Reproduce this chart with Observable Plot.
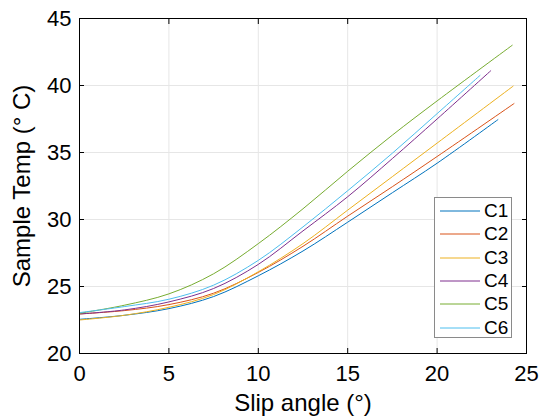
<!DOCTYPE html>
<html>
<head>
<meta charset="utf-8">
<script src="https://cdn.jsdelivr.net/npm/d3@7"></script>
<script src="https://cdn.jsdelivr.net/npm/@observablehq/plot@0.6"></script>
<style>
  html, body { margin: 0; padding: 0; background: #fff; }
  #wrap { position: relative; width: 539px; height: 420px; font-family: "Liberation Sans", Arial, Helvetica, sans-serif; }
  #wrap svg g[aria-label="x-axis tick label"] text,
  #wrap svg g[aria-label="y-axis tick label"] text { font-size: 22px; fill: #000; }
  #wrap svg g[aria-label="x-axis label"] text,
  #wrap svg g[aria-label="y-axis label"] text { font-size: 24px; fill: #000; }
  #legend { position: absolute; left: 434px; top: 197px; width: 78px; height: 141px; background: #fff; border: 1px solid #8a8a8a; box-sizing: border-box; }
  .row { position: absolute; left: 0; height: 20px; display: flex; align-items: center; }
  .row span { font-size: 19px; color: #000; margin-left: 3px; line-height: 20px; }
</style>
</head>
<body>
<div id="wrap"></div>
<script>
const seriesNames = ["C1", "C2", "C3", "C4", "C5", "C6"];
const seriesColors = ["#0072BD", "#D95319", "#EDB120", "#7E2F8E", "#77AC30", "#4DBEEE"];

const xC1 = [0, 2.5, 5, 7.5, 10, 12.5, 15, 17.5, 20, 23.4];
const yC1 = [22.55, 22.85, 23.35, 24.25, 25.8, 27.65, 29.8, 32.0, 34.2, 37.45];
const xC2 = [0, 2.5, 5, 7.5, 10, 12.5, 15, 17.5, 20, 24.3];
const yC2 = [22.95, 23.2, 23.65, 24.5, 26.05, 28.0, 30.25, 32.45, 34.7, 38.65];
const xC3 = [0, 2.5, 5, 7.5, 10, 12.5, 15, 17.5, 20, 24.25];
const yC3 = [22.5, 22.85, 23.45, 24.4, 26.1, 28.2, 30.7, 33.2, 35.7, 39.95];
const xC4 = [0, 2.5, 5, 7.5, 10, 12.5, 15, 17.5, 20, 23.0];
const yC4 = [22.95, 23.25, 23.85, 24.85, 26.65, 29.15, 31.7, 34.55, 37.5, 41.1];
const xC5 = [0, 2.5, 5, 7.5, 10, 12.5, 15, 17.5, 20, 24.2];
const yC5 = [23.0, 23.6, 24.45, 25.95, 28.2, 30.8, 33.6, 36.3, 38.85, 43.0];
const xC6 = [0, 2.5, 5, 7.5, 10, 12.5, 15, 17.5, 20, 22.4];
const yC6 = [23.05, 23.5, 24.05, 25.1, 26.95, 29.45, 32.15, 34.95, 37.9, 40.75];

const xTicks = [0, 5, 10, 15, 20, 25];
const yTicks = [20, 25, 30, 35, 40, 45];
const xLabel = "Slip angle (°)";
const yLabel = "Sample Temp (° C)";

const xsAll = [xC1, xC2, xC3, xC4, xC5, xC6];
const ysAll = [yC1, yC2, yC3, yC4, yC5, yC6];
const rows = [];
seriesNames.forEach((name, i) => {
  xsAll[i].forEach((x, j) => rows.push({series: name, x, y: ysAll[i][j]}));
});

const chart = Plot.plot({
  width: 539,
  height: 420,
  marginLeft: 79,
  marginRight: 13,
  marginTop: 18,
  marginBottom: 67,
  style: {fontFamily: "Liberation Sans, Arial, Helvetica, sans-serif", color: "#000", background: "#fff"},
  x: {domain: [0, 25]},
  y: {domain: [20, 45]},
  color: {domain: seriesNames, range: seriesColors},
  marks: [
    Plot.gridX(xTicks, {stroke: "#e6e6e6", strokeOpacity: 1}),
    Plot.gridY(yTicks, {stroke: "#e6e6e6", strokeOpacity: 1}),
    Plot.line(rows, {x: "x", y: "y", z: "series", stroke: "series", strokeWidth: 1, curve: "catmull-rom"}),
    Plot.axisX(xTicks, {anchor: "bottom", tickSize: 0, tickPadding: 12, label: xLabel, labelAnchor: "center", labelOffset: 57, labelArrow: "none"}),
    Plot.axisX(xTicks, {anchor: "bottom", tickSize: -5, text: null, label: null}),
    Plot.axisX(xTicks, {anchor: "top", tickSize: -5, text: null, label: null}),
    Plot.axisY(yTicks, {anchor: "left", tickSize: 0, tickPadding: 8, label: yLabel, labelAnchor: "center", labelOffset: 67, labelArrow: "none"}),
    Plot.axisY(yTicks, {anchor: "left", tickSize: -5, text: null, label: null}),
    Plot.axisY(yTicks, {anchor: "right", tickSize: -5, text: null, label: null}),
    Plot.frame({stroke: "#000", strokeWidth: 1})
  ]
});
const wrap = document.getElementById("wrap");
wrap.appendChild(chart);

const legend = document.createElement("div");
legend.id = "legend";
seriesNames.forEach((name, i) => {
  const r = document.createElement("div");
  r.className = "row";
  r.style.top = (3 + i * 23.3) + "px";
  r.innerHTML = `<svg width="46" height="20"><line x1="5" x2="45" y1="10" y2="10" stroke="${seriesColors[i]}" stroke-width="1"/></svg><span>${name}</span>`;
  legend.appendChild(r);
});
wrap.appendChild(legend);
</script>
</body>
</html>
